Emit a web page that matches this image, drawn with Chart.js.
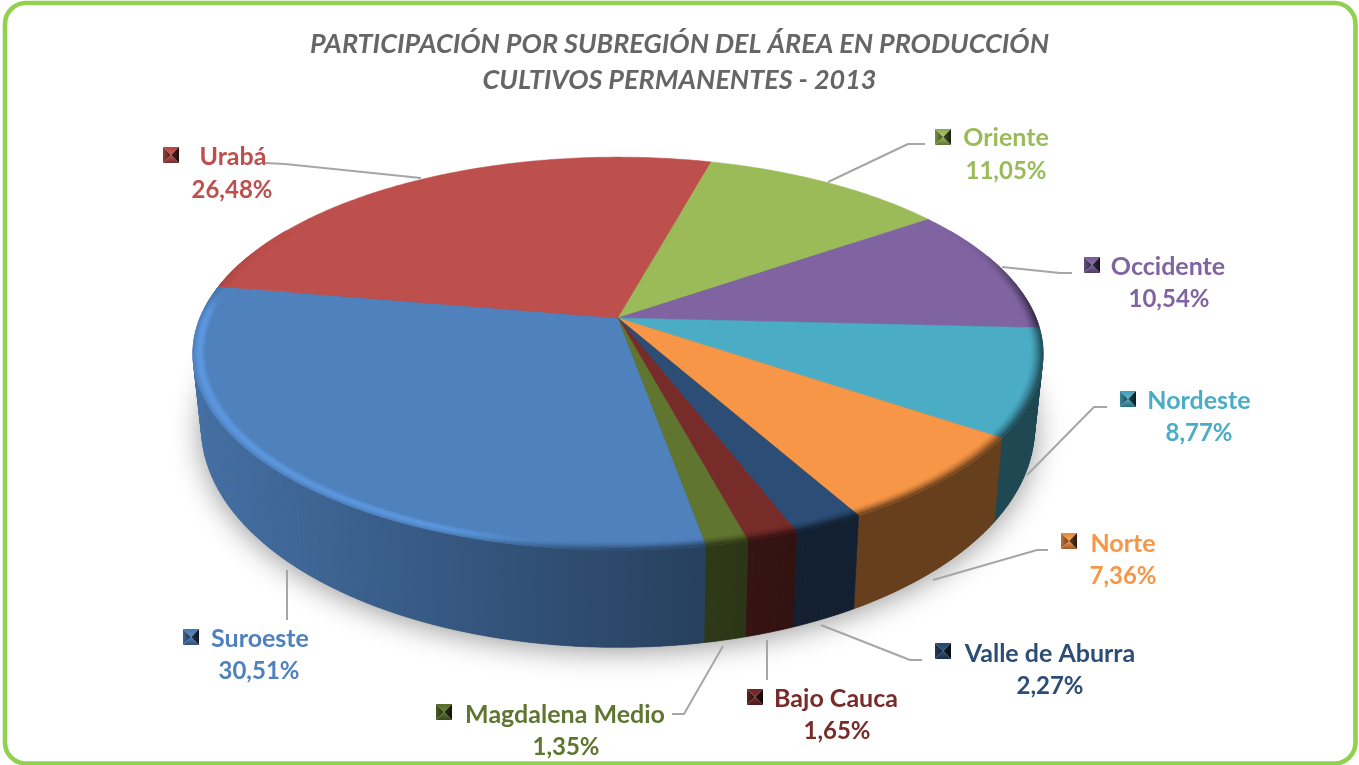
<!DOCTYPE html>
<html lang="es">
<head>
<meta charset="utf-8">
<title>Participación por subregión</title>
<style>html,body{margin:0;padding:0;background:#fff}canvas{display:block}</style>
<script src="https://cdn.jsdelivr.net/npm/chart.js@4"></script>
</head>
<body>
<canvas id="c" width="1359" height="765"></canvas>
<script>
const categories = ["Suroeste","Urabá","Oriente","Occidente","Nordeste","Norte","Valle de Aburra","Bajo Cauca","Magdalena Medio"];
const values = [30.51,26.48,11.05,10.54,8.77,7.36,2.27,1.65,1.35];
const colors = ["#4f81bd","#bd4f4c","#9bbb59","#8064a2","#4bacc6","#f79646","#2c4d75","#772c2a","#5f7530"];
const titleLines = ["PARTICIPACIÓN POR SUBREGIÓN DEL ÁREA EN PRODUCCIÓN","CULTIVOS PERMANENTES - 2013"];

// label placement: key centre, name centre, value centre, baseline rows
const labelLayout = [
  {key:[191,637],name:[260,639],pct:[259,671],lead:[[287,570],[287,620]]},
  {key:[171,155],name:[233,157],pct:[232,190],lead:[[265,163],[285,164],[421,178]]},
  {key:[943,137],name:[1006,138],pct:[1006,171],lead:[[925,144],[908,144],[828,182]]},
  {key:[1092,265],name:[1168,267],pct:[1169,299],lead:[[1072,273],[1060,273],[1002,267]]},
  {key:[1128,399],name:[1199,401],pct:[1199,433],lead:[[1107,407],[1094,407],[1027,475]]},
  {key:[1069,541],name:[1123,544],pct:[1123,576],lead:[[1048,550],[1037,550],[933,580]]},
  {key:[943,651],name:[1050,654],pct:[1050,686],lead:[[922,660],[910,660],[821,625]]},
  {key:[755,697],name:[836,699],pct:[837,731],lead:[[767,640],[767,680]]},
  {key:[444,712],name:[565,715],pct:[566,747],lead:[[723,646],[692,700],[684,714],[672,714]]}
];

// view of the pie disc: perspective projection of the library's arc angles
const view = {shiftX:-61.5, R:418, A:190, k:0.181, lowX:0.98, lowY:1.118, drop:70};

function hex(c){return [1,3,5].map(i=>parseInt(c.substr(i,2),16));}
function mix(a,b,t){return a.map((v,i)=>v+(b[i]-v)*t);}
function mul(a,f){return a.map(v=>Math.min(255,v*f));}
function css(a){return `rgb(${a[0]|0},${a[1]|0},${a[2]|0})`;}
function sstep(e0,e1,x){const t=Math.max(0,Math.min(1,(x-e0)/(e1-e0)));return t*t*(3-2*t);}

function project(cx,cy,a,rr,lower){
  const u=rr*Math.cos(a),v=rr*Math.sin(a),d=1-view.k*v;
  if(lower) return [cx+view.R*view.lowX*u/d, cy+view.drop+view.A*view.lowY*v/d];
  return [cx+view.R*u/d, cy+view.A*v/d];
}
function wallFactor(x){
  if(x<=700) return 0.87-(x-200)/500*0.37;
  if(x>=800) return 0.42;
  return 0.5-(x-700)/100*0.08;
}
function quad(ctx,p,q,r,s,col){
  ctx.fillStyle=col;ctx.strokeStyle=col;ctx.lineWidth=0.6;
  ctx.beginPath();ctx.moveTo(p[0],p[1]);ctx.lineTo(q[0],q[1]);ctx.lineTo(r[0],r[1]);ctx.lineTo(s[0],s[1]);ctx.closePath();
  ctx.fill();ctx.stroke();
}
function steps(a0,a1){
  const n=Math.max(2,Math.ceil((a1-a0)/(Math.PI/240)));
  const out=[];for(let i=0;i<=n;i++)out.push(a0+(a1-a0)*i/n);return out;
}

const disc3d = {
  id:'disc3d',
  beforeDraw(chart){
    const ctx=chart.ctx;
    ctx.save();
    ctx.strokeStyle='#92d050';ctx.lineWidth=4.6;
    ctx.beginPath();ctx.roundRect(5,3,1350.5,760.5,21);ctx.stroke();
    ctx.restore();
  },
  beforeDatasetsDraw(chart){
    const ctx=chart.ctx, arcs=chart.getDatasetMeta(0).data;
    const cx=arcs[0].x+view.shiftX, cy=arcs[0].y;
    ctx.save();
    // soft shadow of the base
    ctx.save();
    ctx.shadowColor='rgba(0,0,0,0.42)';ctx.shadowBlur=30;ctx.shadowOffsetY=3;
    ctx.fillStyle='#555';ctx.beginPath();
    steps(0,Math.PI*2).forEach((a,i)=>{const p=project(cx,cy,a,1,true);i?ctx.lineTo(p[0],p[1]):ctx.moveTo(p[0],p[1]);});
    ctx.closePath();ctx.fill();ctx.restore();
    // side walls
    arcs.forEach((arc,i)=>{
      const base=hex(colors[i]),st=steps(arc.startAngle,arc.endAngle);
      for(let j=0;j<st.length-1;j++){
        const a=st[j],b=st[j+1];
        if(Math.sin((a+b)/2)<-0.35) continue;
        const p=project(cx,cy,a,1,false),q=project(cx,cy,b,1,false),r=project(cx,cy,b,1,true),s=project(cx,cy,a,1,true);
        quad(ctx,p,q,r,s,css(mul(base,wallFactor((p[0]+q[0])/2))));
      }
    });
    // top faces
    arcs.forEach((arc,i)=>{
      ctx.fillStyle=colors[i];ctx.strokeStyle=colors[i];ctx.lineWidth=0.5;
      ctx.beginPath();ctx.moveTo(cx,cy);
      steps(arc.startAngle,arc.endAngle).forEach(a=>{const p=project(cx,cy,a,1,false);ctx.lineTo(p[0],p[1]);});
      ctx.closePath();ctx.fill();ctx.stroke();
    });
    // bevel along the rim
    const bands=8,inner=0.972;
    arcs.forEach((arc,i)=>{
      const base=hex(colors[i]),st=steps(arc.startAngle,arc.endAngle);
      for(let j=0;j<st.length-1;j++){
        const a=st[j],b=st[j+1],m=(a+b)/2,u=Math.cos(m),v=Math.sin(m);
        const vis=sstep(-0.5,0.02,v);
        if(vis<=0) continue;
        const hl=sstep(0.0,-0.4,u)*sstep(-0.2,0.0,v);
        const x=project(cx,cy,m,1,false)[0];
        const wall=mul(base,wallFactor(x));
        for(let t=0;t<bands;t++){
          const r0=inner+(1-inner)*t/bands,r1=inner+(1-inner)*(t+1)/bands,tt=(t+0.5)/bands;
          const dark=mix(base,wall,Math.pow(tt,1.4));
          const light=mix(base,mul(base,1.18),Math.sin(Math.PI*Math.pow(tt,0.9)));
          const lit=u<-0.0?1:0;
          const col=mix(base,mix(dark,light,hl),lit?Math.max(vis,hl):vis);
          quad(ctx,project(cx,cy,a,r0),project(cx,cy,b,r0),project(cx,cy,b,r1),project(cx,cy,a,r1),css(col));
        }
      }
    });
    ctx.restore();
    return false;
  },
  afterDraw(chart){
    const ctx=chart.ctx;
    ctx.save();
    // leader lines
    ctx.strokeStyle='#a6a6a6';ctx.lineWidth=2;ctx.lineJoin='round';
    labelLayout.forEach(l=>{
      ctx.beginPath();l.lead.forEach((p,i)=>i?ctx.lineTo(p[0],p[1]):ctx.moveTo(p[0],p[1]));ctx.stroke();
    });
    // keys and labels
    ctx.textAlign='center';ctx.textBaseline='middle';
    categories.forEach((name,i)=>{
      const l=labelLayout[i],base=hex(colors[i]),[kx,ky]=l.key,h=8;
      const tri=(a,b,f)=>{ctx.fillStyle=f;ctx.beginPath();ctx.moveTo(a[0],a[1]);ctx.lineTo(b[0],b[1]);ctx.lineTo(kx,ky);ctx.closePath();ctx.fill();};
      const tl=[kx-h,ky-h],tr=[kx+h,ky-h],br=[kx+h,ky+h],bl=[kx-h,ky+h];
      const topG=ctx.createLinearGradient(0,ky-h,0,ky);topG.addColorStop(0,css(mul(base,0.9)));topG.addColorStop(1,css(mul(base,1.12)));
      const botG=ctx.createLinearGradient(0,ky,0,ky+h);botG.addColorStop(0,css(mul(base,1.0)));botG.addColorStop(1,css(mul(base,0.62)));
      const leftG=ctx.createLinearGradient(kx-h,0,kx,0);leftG.addColorStop(0,css(mul(base,0.78)));leftG.addColorStop(1,css(mul(base,0.42)));
      const rightG=ctx.createLinearGradient(kx,0,kx+h,0);rightG.addColorStop(0,css(mul(base,0.45)));rightG.addColorStop(1,css(mul(base,0.18)));
      tri(tl,tr,topG);tri(bl,br,botG);tri(tl,bl,leftG);tri(tr,br,rightG);
      ctx.fillStyle=colors[i];
      ctx.font='bold 25px Lato, "Open Sans", sans-serif';
      ctx.fillText(name,l.name[0],l.name[1]);
      ctx.font='bold 24px Lato, "Open Sans", sans-serif';
      ctx.fillText(values[i].toFixed(2).replace('.',',')+'%',l.pct[0],l.pct[1]);
    });
    ctx.restore();
  }
};

new Chart(document.getElementById('c'),{
  type:'pie',
  data:{labels:categories,datasets:[{data:values,backgroundColor:colors,borderWidth:0}]},
  plugins:[disc3d],
  options:{
    responsive:false,animation:false,rotation:170,
    layout:{padding:{left:0,right:0,top:0,bottom:229}},
    plugins:{
      legend:{display:false},tooltip:{enabled:false},
      title:{display:true,text:titleLines,color:'#666666',align:'center',
        padding:{top:26,bottom:2},
        font:{family:'Lato, "Open Sans", sans-serif',size:27,weight:'bold',style:'italic',lineHeight:1.333}}
    }
  }
});
</script>
</body>
</html>
